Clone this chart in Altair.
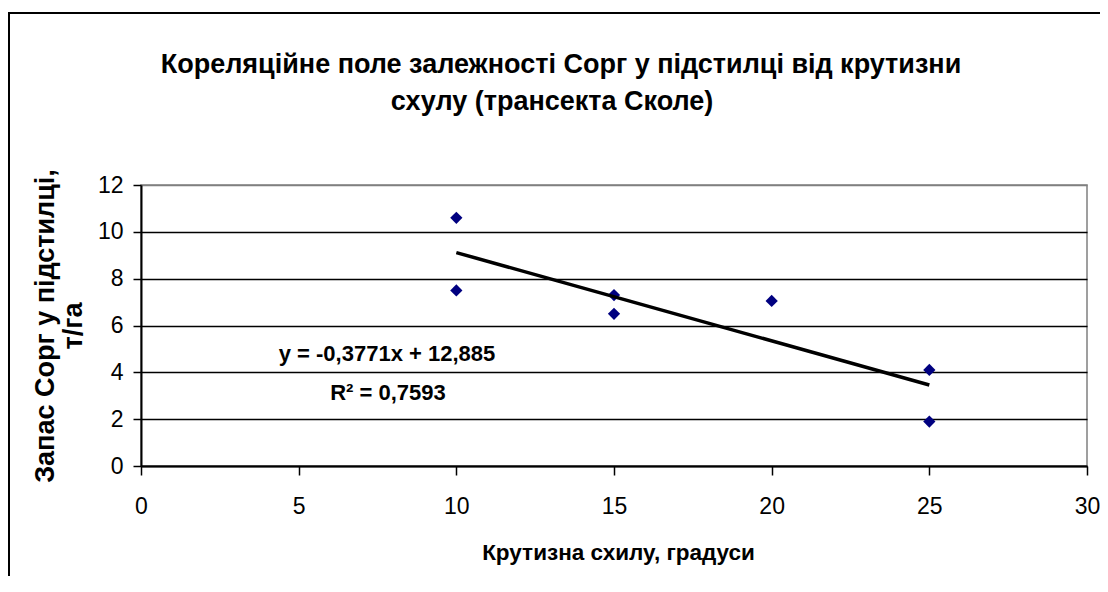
import altair as alt
import pandas as pd

# ---- data ----
slope_deg = [10, 10, 15, 15, 20, 25, 25]
corg = [10.6, 7.5, 7.3, 6.5, 7.05, 4.1, 1.9]
x_ticks = [0, 5, 10, 15, 20, 25, 30]
y_ticks = [0, 2, 4, 6, 8, 10, 12]
title_line1 = "Кореляційне поле залежності Сорг у підстилці від крутизни"
title_line2 = "схулу (трансекта Сколе)"
x_title = "Крутизна схилу, градуси"
y_title = ["Запас Сорг у підстилці,", "т/га"]
eq_line = "y = -0,3771x + 12,885"
r2_line = "R² = 0,7593"

FONT = "Liberation Sans, Arial, sans-serif"
W, H = 946, 281

df = pd.DataFrame({"x": slope_deg, "y": corg})
one = pd.DataFrame({"a": [0]})

xs = alt.Scale(domain=[0, 30], nice=False, zero=False)
ys = alt.Scale(domain=[0, 12], nice=False)

x_axis = alt.Axis(values=x_ticks, title=x_title, grid=False, tickSize=9,
                  labelPadding=20, labelFlush=False, titleX=477, titleY=93,
                  titleBaseline="alphabetic", titleAnchor="middle", titleFontSize=22.5)
y_axis = alt.Axis(values=y_ticks, title=y_title, grid=True,
                  gridColor=alt.condition("datum.value == 12",
                                          alt.value("#808080"), alt.value("#000000")),
                  gridWidth=1.4, tickSize=8, labelPadding=10, labelFlush=False,
                  titleAngle=270, titleX=-96, titleY=H / 2, titleFontSize=27,
                  titleBaseline="middle", titleAlign="center", titleLineHeight=28)

frame = alt.Chart(one).mark_rect(fill=None, stroke="black", strokeWidth=2).encode(
    x=alt.value(-132), y=alt.value(-172), x2=alt.value(1300), y2=alt.value(900))

points = alt.Chart(df).mark_point(shape="diamond", filled=True, color="#000080",
                                  size=150, opacity=1).encode(
    x=alt.X("x:Q", scale=xs, axis=x_axis),
    y=alt.Y("y:Q", scale=ys, axis=y_axis),
)

trend = alt.Chart(df).transform_regression("x", "y", extent=[10, 25]).mark_line(
    color="black", strokeWidth=3.5).encode(
    x=alt.X("x:Q", scale=xs), y=alt.Y("y:Q", scale=ys))


def label(txt, px, py, size):
    return alt.Chart(one).mark_text(text=txt, font=FONT, fontSize=size, fontWeight="bold",
                                    align="center", baseline="alphabetic",
                                    color="black").encode(x=alt.value(px), y=alt.value(py))


t1 = label(title_line1, 420, -112, 27)
t2 = label(title_line2, 411, -75, 27)
eq = label(eq_line, 246, 176, 22)
r2 = label(r2_line, 247, 215, 22)

chart = alt.layer(frame, points, trend, eq, r2, t1, t2).properties(
    width=W, height=H,
    autosize=alt.AutoSizeParams(type="none"),
    padding={"left": 133, "top": 177, "right": 13, "bottom": 110},
    background="white",
).configure_view(stroke="#808080", strokeWidth=1.5).configure_axis(
    labelFont=FONT, labelFontSize=23, labelColor="black",
    titleFont=FONT, titleFontWeight="bold", titleColor="black",
    domainColor="black", domainWidth=2, tickColor="black", tickWidth=1.5,
)

chart.save("out.html", embed_options={"renderer": "svg", "actions": False})
